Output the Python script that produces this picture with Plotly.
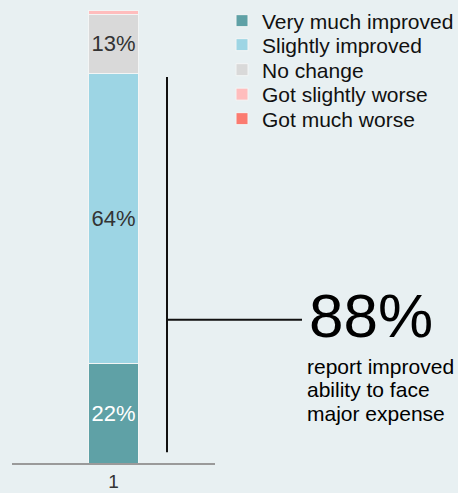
import plotly.graph_objects as go

# ---- data ----
categories = [1]
series_names = ["Very much improved", "Slightly improved", "No change",
                "Got slightly worse", "Got much worse"]
series_values = [22, 64, 13, 1, 0]
series_colors = ["#5fa1a6", "#9dd5e4", "#d9d9d9", "#ffbdbd", "#fb7b70"]
label_colors = ["#ffffff", "#333333", "#333333", "#333333", "#333333"]
tick_labels = ["1"]
headline = "88%"
headline_lines = ["report improved", "ability to face", "major expense"]

FONT = "Liberation Sans, Arial, sans-serif"
BG = "#e8f0f2"

W, H = 458, 493
ML, MR, MT, MB = 12, 243, 10, 30
PW = W - ML - MR
PH = H - MT - MB


def px_x(px):
    return (px - ML) / PW


def px_y(px):
    return (H - MB - px) / PH


fig = go.Figure()
for i, (name, v, c) in enumerate(zip(series_names, series_values, series_colors)):
    fig.add_trace(go.Bar(
        x=categories, y=[v], name=name, width=0.25,
        marker=dict(color=c, line=dict(color="#f3f5f5", width=1)),
        text=[f"{v}%" if v >= 5 else ""],
        textposition="inside", insidetextanchor="middle",
        constraintext="none", textangle=0,
        textfont=dict(family=FONT, size=22, color=label_colors[i]),
        hoverinfo="name+y",
        legend="legend" if i == 0 else f"legend{i + 1}",
    ))

# legends: one per row to match the tight row spacing
row_centers = [21, 45, 70, 94.5, 119]
legend_defs = {}
for i, yc in enumerate(row_centers):
    key = "legend" if i == 0 else f"legend{i + 1}"
    legend_defs[key] = dict(
        x=px_x(222), xanchor="left", y=px_y(yc), yanchor="middle",
        bgcolor="rgba(0,0,0,0)", borderwidth=0,
        font=dict(family=FONT, size=21, color="#111111"),
    )

shapes = [
    dict(type="line", xref="paper", yref="y", x0=px_x(167), x1=px_x(167),
         y0=2.4, y1=85.2, line=dict(color="#111111", width=2)),
    dict(type="line", xref="paper", yref="y", x0=px_x(167), x1=px_x(302),
         y0=31.6, y1=31.6, line=dict(color="#111111", width=2)),
]

annotations = [dict(
    xref="paper", yref="paper", x=px_x(307), y=px_y(315), xanchor="left",
    yanchor="middle", text=headline, showarrow=False,
    font=dict(family=FONT, size=62, color="#000000"))]
for yc, line in zip([366, 389.5, 413], headline_lines):
    annotations.append(dict(
        xref="paper", yref="paper", x=px_x(305), y=px_y(yc), xanchor="left",
        yanchor="middle", text=line, showarrow=False,
        font=dict(family=FONT, size=21, color="#000000")))

fig.update_layout(
    width=W, height=H, autosize=False,
    margin=dict(l=ML, r=MR, t=MT, b=MB, autoexpand=False),
    barmode="stack",
    paper_bgcolor=BG, plot_bgcolor=BG,
    showlegend=True,
    shapes=shapes, annotations=annotations,
    xaxis=dict(range=[0.5, 1.5], tickvals=categories, ticktext=tick_labels,
               showline=True, linecolor="#9a9a9a", linewidth=2,
               showgrid=False, zeroline=False, ticks="",
               ticklabelstandoff=0,
               tickfont=dict(family=FONT, size=19, color="#333333"),
               fixedrange=True),
    yaxis=dict(range=[0, 100], visible=False, fixedrange=True),
    **legend_defs,
)

fig.write_html("out.html", config={"displayModeBar": False},
               post_script="document.body.style.margin='0';"
                           "document.body.style.overflow='hidden';")
